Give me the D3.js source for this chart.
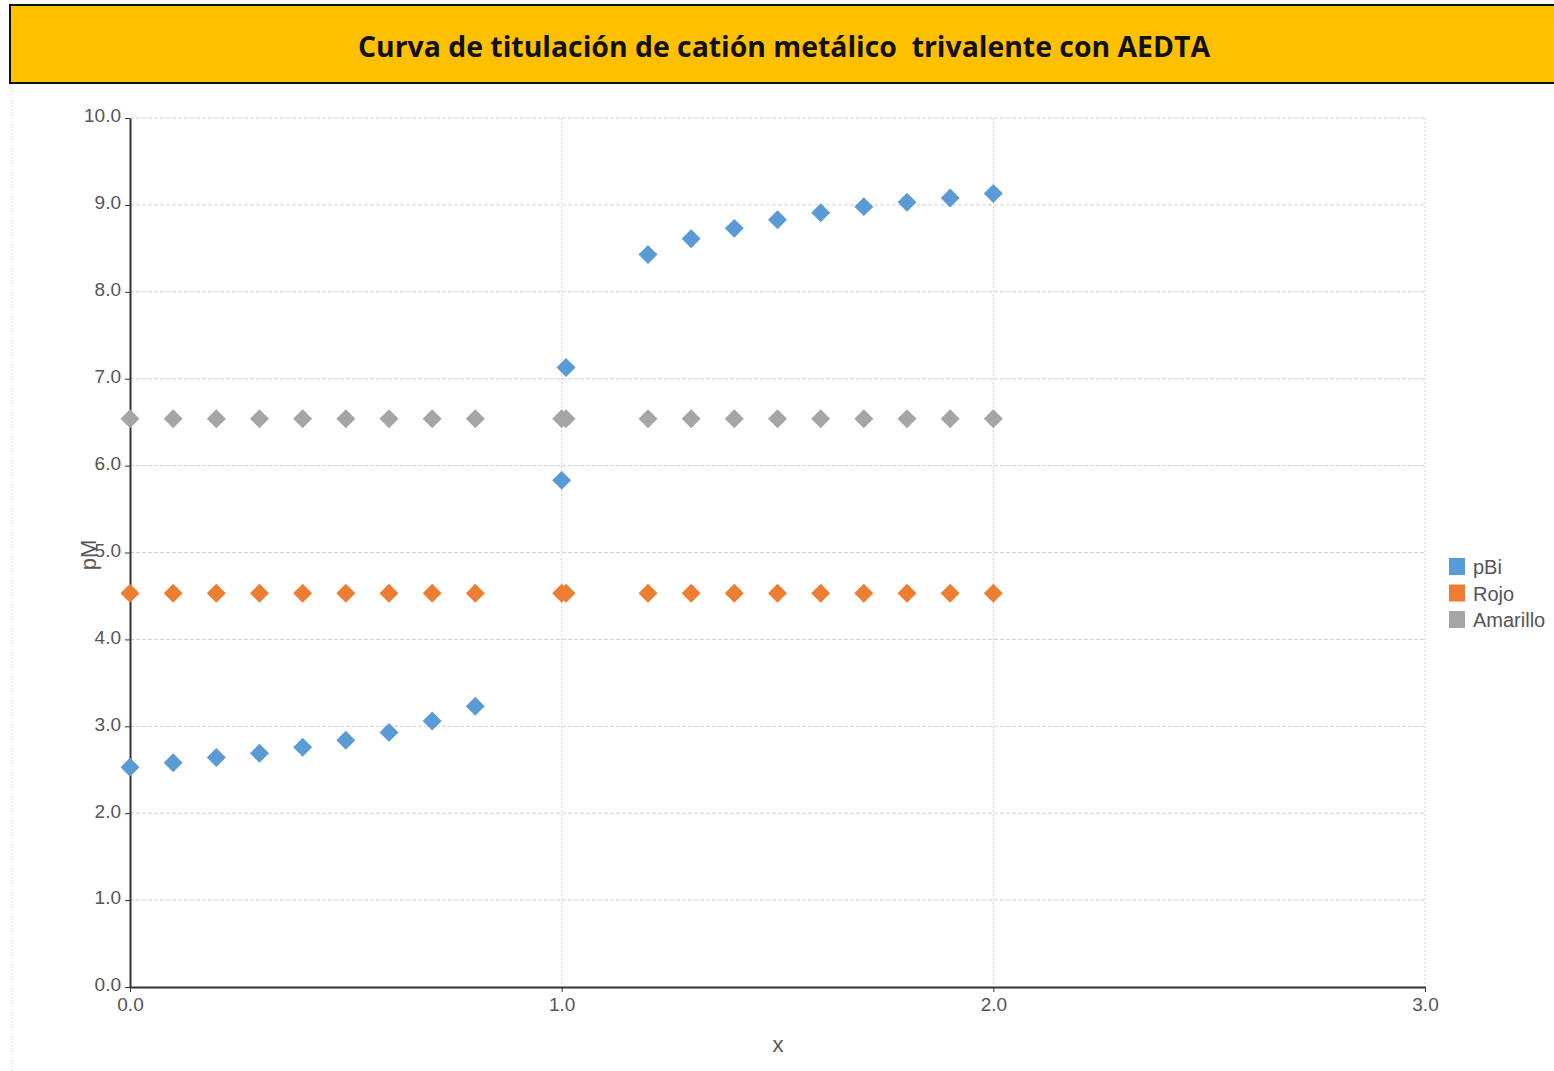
<!DOCTYPE html>
<html><head><meta charset="utf-8">
<script src="https://cdn.jsdelivr.net/npm/d3@7"></script>
<style>body{margin:0;background:#fff;} svg{display:block;}</style>
</head><body>
<svg id="c" width="1554" height="1071"></svg>
<script>
const title = "Curva de titulación de catión metálico  trivalente con AEDTA";
const xValues = [0,0.1,0.2,0.3,0.4,0.5,0.6,0.7,0.8,1.0,1.01,1.2,1.3,1.4,1.5,1.6,1.7,1.8,1.9,2.0];
const pBi = [2.53,2.58,2.64,2.69,2.76,2.84,2.93,3.06,3.23,5.83,7.13,8.43,8.61,8.73,8.83,8.91,8.98,9.03,9.08,9.13];
const rojo = [4.53,4.53,4.53,4.53,4.53,4.53,4.53,4.53,4.53,4.53,4.53,4.53,4.53,4.53,4.53,4.53,4.53,4.53,4.53,4.53];
const amarillo = [6.54,6.54,6.54,6.54,6.54,6.54,6.54,6.54,6.54,6.54,6.54,6.54,6.54,6.54,6.54,6.54,6.54,6.54,6.54,6.54];
const seriesNames = ["pBi","Rojo","Amarillo"];
const colors = ["#5B9BD5","#ED7D31","#A5A5A5"];
const xTicks = [0,1,2,3];
const yTicks = [0,1,2,3,4,5,6,7,8,9,10];

const svg = d3.select("#c");
// banner
svg.append("rect").attr("x",10).attr("y",5).attr("width",1560).attr("height",78)
  .attr("fill","#FFC000").attr("stroke","#111").attr("stroke-width",2);
svg.append("line").attr("x1",10).attr("x2",1554).attr("y1",83).attr("y2",83).attr("stroke","#111").attr("stroke-width",2);
svg.append("text").attr("x",784).attr("y",57).attr("text-anchor","middle")
  .style("white-space","pre").attr("xml:space","preserve")
  .attr("font-family","Open Sans, sans-serif").attr("font-weight","bold").attr("font-size",29)
  .attr("textLength",852).attr("lengthAdjust","spacingAndGlyphs").attr("fill","#111").text(title);
// left dotted border
svg.append("line").attr("x1",12).attr("x2",12).attr("y1",88).attr("y2",1071)
  .attr("stroke","#ccc").attr("stroke-dasharray","1,2");

const x = d3.scaleLinear().domain([0,3]).range([130,1425]);
const y = d3.scaleLinear().domain([0,10]).range([987,118]);
const font = "Liberation Sans, Arial, sans-serif";

// grid
svg.append("g").selectAll("line").data(yTicks.slice(1)).join("line")
  .attr("x1",x(0)).attr("x2",x(3)).attr("y1",d=>y(d)).attr("y2",d=>y(d))
  .attr("stroke","#d0d0d0").attr("stroke-dasharray","4,2");
svg.append("g").selectAll("line").data(xTicks.slice(1)).join("line")
  .attr("x1",d=>x(d)).attr("x2",d=>x(d)).attr("y1",y(10)).attr("y2",y(0))
  .attr("stroke","#d0d0d0").attr("stroke-dasharray","2,2");

// axes
const gx = svg.append("g").attr("transform",`translate(0,${y(0)})`)
  .call(d3.axisBottom(x).tickValues(xTicks).tickFormat(d3.format(".1f")).tickSize(5).tickSizeOuter(0));
const gy = svg.append("g").attr("transform",`translate(${x(0)},0)`)
  .call(d3.axisLeft(y).tickValues(yTicks).tickFormat(d3.format(".1f")).tickSize(5).tickSizeOuter(0));
[gx,gy].forEach(g=>{
  g.select(".domain").attr("stroke","#333").attr("stroke-width",2);
  g.selectAll(".tick line").attr("stroke","#333");
  g.selectAll("text").attr("font-family",font).attr("font-size",19).attr("fill","#555");
});
gx.selectAll("text").attr("y",24).attr("dy",0);
gy.selectAll("text").attr("x",-9).attr("dy","0.2em");

// axis titles
svg.append("text").attr("x",778).attr("y",1052).attr("text-anchor","middle")
  .attr("font-family",font).attr("font-size",22).attr("fill","#555").text("x");
svg.append("text").attr("transform","translate(96,555) rotate(-90)").attr("text-anchor","middle")
  .attr("font-family",font).attr("font-size",22).attr("fill","#555").text("pM");

// points
const data = [pBi,rojo,amarillo];
[2,1,0].forEach(i=>{
  svg.append("g").selectAll("path").data(xValues.map((xv,j)=>[xv,data[i][j]])).join("path")
    .attr("transform",d=>`translate(${x(d[0])},${y(d[1])}) rotate(45)`)
    .attr("d",d3.symbol().type(d3.symbolSquare).size(180))
    .attr("fill",colors[i]);
});

// legend
const lg = svg.append("g").attr("transform","translate(1449,558)");
seriesNames.forEach((n,i)=>{
  lg.append("rect").attr("x",0).attr("y",i*26.5).attr("width",16).attr("height",17).attr("fill",colors[i]);
  lg.append("text").attr("x",24).attr("y",i*26.5+16).attr("font-family",font).attr("font-size",20)
    .attr("fill","#555").text(n);
});
</script>
</body></html>
